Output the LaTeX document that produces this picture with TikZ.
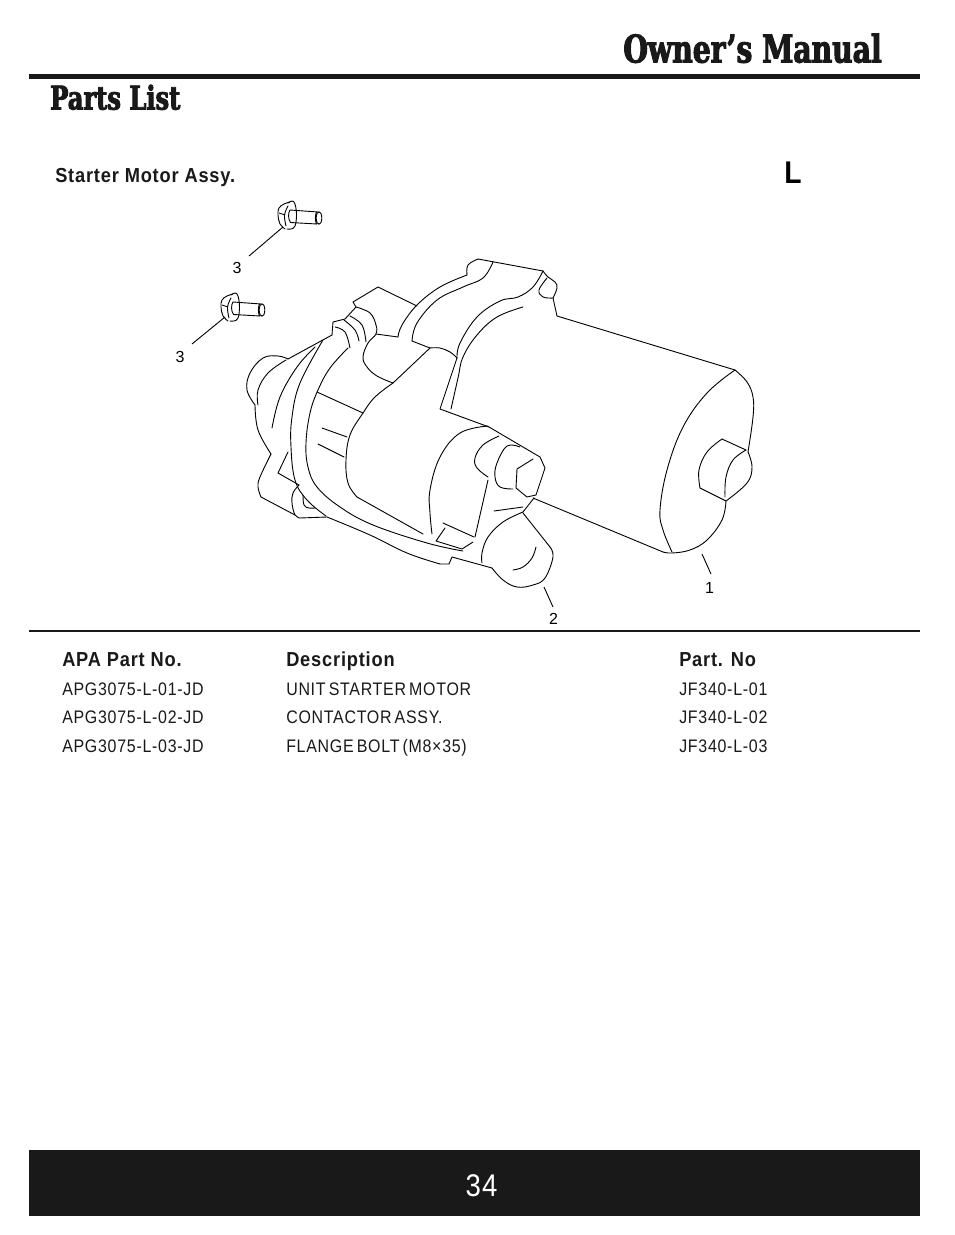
\documentclass[tikz,border=0pt]{standalone}
\usepackage{fontspec}
\setmainfont{Liberation Sans}
\newfontfamily\cond[FakeStretch=0.88,LetterSpace=4,WordSpace=0.6]{Liberation Sans}
\newfontfamily\condb[FakeStretch=0.9,LetterSpace=4]{Liberation Sans Bold}
\newfontfamily\slab[FakeStretch=0.74,FakeBold=2.6]{DejaVu Serif Bold}
\newcommand\cv[1]{\draw[part] plot[smooth,tension=.65] coordinates {#1};}
\newcommand\boltshape[1]{%
\begin{scope}[shift={#1}]
\draw[part] (290,210) -- (318,212);
\draw[part] (290.5,222.5) -- (317,224);
\draw[part] (319,218) ellipse [x radius=2.8,y radius=6.3];
\draw[part] (316.5,212) .. controls (315,215) and (315,221) .. (316.5,224);
\draw[part] (290,210) .. controls (288,213) and (288,219) .. (290.5,222.5);
\cv{(288,203) (292,201) (295,204) (296.5,215) (295,226) (291,229) (287,229)}
\cv{(290,202) (284,204) (279,208) (278,215) (280,224) (285,229)}
\cv{(288,206) (284.5,215) (286,226)}
\draw[part] (279,213) -- (285,215);
\end{scope}}
\tikzset{
 part/.style={line width=.68pt,black,line cap=round,line join=round},
 leader/.style={line width=.68pt,black},
 callout/.style={font=\fontsize{12}{12}\selectfont,inner sep=0pt,anchor=center},
 th/.style={font=\condb\fontsize{15.2}{15}\selectfont,inner sep=0pt,anchor=base west,text=black!90},
 td/.style={font=\cond\fontsize{13.6}{14}\selectfont,inner sep=0pt,anchor=base west,text=black!90},
 rulebar/.style={fill=black!90,draw=none}
}
\begin{document}
\begin{tikzpicture}[x=.75pt,y=-.75pt]
\useasboundingbox (0,0) rectangle (954,1235);
\fill[white] (0,0) rectangle (954,1235);
% header
\fill[rulebar] (29,74) rectangle (920,79);
\node[inner sep=0pt,anchor=base east,font=\slab\fontsize{28.6}{29}\selectfont,text=black!90] (title) at (882,62.5) {Owner’s Manual};
\node[inner sep=0pt,anchor=base west,font=\slab\fontsize{24.5}{25}\selectfont,text=black!90] (sect) at (50,109.5) {Parts List};
\node[th] (assy) at (55,182) {Starter Motor Assy.};
\node[inner sep=0pt,anchor=base west,font=\condb\fontsize{23.5}{24}\selectfont] (letter) at (784,183) {L};
% bolts
\boltshape{(0,0)}
\boltshape{(-57,92)}
% motor can
\draw[part] (557,316) -- (735,370);
\draw[part] (533,498) -- (663,552);
\cv{(735,370) (747,382) (753,397) (753,417) (748,452)}
\cv{(748,452) (752,467) (747,483) (726,501)}
\cv{(726,501) (722,520) (707,540) (690,550) (672,553) (663,552)}
\cv{(735,370) (707,393) (683,427) (667,470) (660,510) (663,530) (672,552)}
\draw[part] (746,450) -- (722,439);
\cv{(722,439) (707,452) (699,470) (700,488)}
\draw[part] (700,488) -- (726,501);
\cv{(746,450) (733,460) (726,477) (725,497)}
% housing top
\draw[part] (478,259) -- (543,271);
\cv{(467,275) (468,265) (478,259)}
\cv{(493,262) (483,278) (463,287) (437,300) (417,323) (412,341)}
\cv{(467,275) (440,287) (417,305) (402,325) (398,337)}
\draw[part] (398,337) -- (376,334);
\draw[part] (412,341) -- (430,348);
\cv{(430,348) (440,348) (450,352) (457,358)}
\draw[part] (457,358) -- (440,409) -- (489,427);
\cv{(543,271) (533,287) (518,297) (500,301) (477,317) (460,343) (457,358)}
\cv{(523,307) (497,317) (477,335) (463,357) (458,378) (451,409)}
\cv{(543,271) (548,277) (555,282) (557,288) (553,298)}
\cv{(547,278) (539,290) (543,297) (553,298)}
\draw[part] (553,298) -- (557,316);
% solenoid
\draw[part] (489,427) -- (540,457) -- (545,468) -- (536,495) -- (527,497) -- (516,488) -- (517,469) -- (533,459);
\cv{(488,426) (460,433) (440,457) (430,490) (430,513) (432,534)}
\cv{(499,436) (483,445) (475,458) (477,468) (488,477)}
\draw[part] (488,480) -- (475,537);
\cv{(520,447) (507,446) (497,463) (495,477) (500,487) (513,489)}
\draw[part] (494,511) -- (523,507);
\draw[part] (534,498) -- (523,512);
% contactor
\cv{(523,512) (503,522) (488,537) (482,553) (482,563)}
\draw[part] (523,513) -- (550,547);
\cv{(550,547) (553,557) (545,578) (533,585) (517,587) (503,580) (492,568)}
\draw[part] (492,568) -- (452,557) -- (449,564) -- (440,564);
\cv{(440,564) (407,553) (370,535) (327,517)}
\cv{(536,547) (532,558) (523,567) (513,570)}
\draw[part] (443,523) -- (474,537);
\draw[part] (445,528) -- (436,541) -- (462,549) -- (473,542);
% brackets
\cv{(463,551) (427,543) (373,525) (340,507) (317,487) (308,467) (306,443) (310,413) (318,390) (330,368) (348,348)}
\cv{(326,516) (307,500) (295,480) (291,447) (292,417) (300,383) (323,340)}
\draw[part] (327,517) -- (300,518);
\cv{(299,485) (293,493) (292,503) (295,515) (300,518)}
\cv{(303,495) (304,505) (309,508) (315,508)}
% solenoid body
\draw[part] (430,348) -- (393,383);
\cv{(393,383) (375,397) (363,413) (350,435) (346,460) (348,483) (357,497)}
\draw[part] (357,497) -- (423,534);
\draw[part] (322,428) -- (347,437);
\draw[part] (318,444) -- (344,457);
\draw[part] (317,392) -- (363,413);
% front nose
\draw[part] (288,359) -- (332,335);
\cv{(288,359) (278,356) (263,358) (250,373) (247,390) (255,405)}
\cv{(255,405) (258,430) (271,454)}
\cv{(271,454) (260,477) (258,487) (261,497)}
\draw[part] (261,497) -- (295,515);
\draw[part] (288,452) -- (278,473) -- (299,485);
\cv{(286,360) (268,373) (258,390) (258,405)}
\cv{(315,347) (297,367) (280,397) (272,428)}
% terminal cover
\draw[part] (332,335) -- (333,322) -- (345,319) -- (356,307) -- (353,302) -- (378,287) -- (417,306);
\cv{(356,307) (370,313) (376,325) (376,334) (368,343) (363,357) (367,367) (377,376) (393,383)}
\cv{(335,327) (345,332) (350,348)}
\cv{(344,320) (355,330) (359,341)}
\cv{(350,316) (362,325) (366,342)}
% leaders and callouts
\node[callout] (c3a) at (237,268) {3};
\node[callout] (c3b) at (180,357) {3};
\node[callout] (c1) at (709.5,587.5) {1};
\node[callout] (c2) at (553.5,619) {2};
\coordinate (b3a) at (283,227);
\coordinate (e3a) at (249,256);
\coordinate (b3b) at (225,317);
\coordinate (e3b) at (192,344);
\coordinate (b1) at (702,554);
\coordinate (e1) at (711,574);
\coordinate (b2) at (544,587);
\coordinate (e2) at (553,607);
\draw[leader] (b3a) -- (e3a);
\draw[leader] (b3b) -- (e3b);
\draw[leader] (b1) -- (e1);
\draw[leader] (b2) -- (e2);
% table
\fill[rulebar] (29,630) rectangle (920,631.8);
\node[th] (h1) at (62,666.5) {APA Part No.};
\node[th] (h2) at (286,666.5) {Description};
\node[th] (h3) at (679,666.5) {Part. No};
\node[td] (a1) at (62,695.5) {APG3075-L-01-JD};
\node[td] (d1) at (286,695.5) {UNIT STARTER MOTOR};
\node[td] (p1) at (679,695.5) {JF340-L-01};
\node[td] (a2) at (62,723.5) {APG3075-L-02-JD};
\node[td] (d2) at (286,723.5) {CONTACTOR ASSY.};
\node[td] (p2) at (679,723.5) {JF340-L-02};
\node[td] (a3) at (62,752.5) {APG3075-L-03-JD};
\node[td] (d3) at (286,752.5) {FLANGE BOLT (M8×35)};
\node[td] (p3) at (679,752.5) {JF340-L-03};
% footer
\fill[rulebar] (29,1150) rectangle (920,1216);
\node[inner sep=0pt,anchor=center,text=white,font=\cond\fontsize{23.5}{24}\selectfont] (page) at (481.5,1186) {34};
\end{tikzpicture}
\end{document}
